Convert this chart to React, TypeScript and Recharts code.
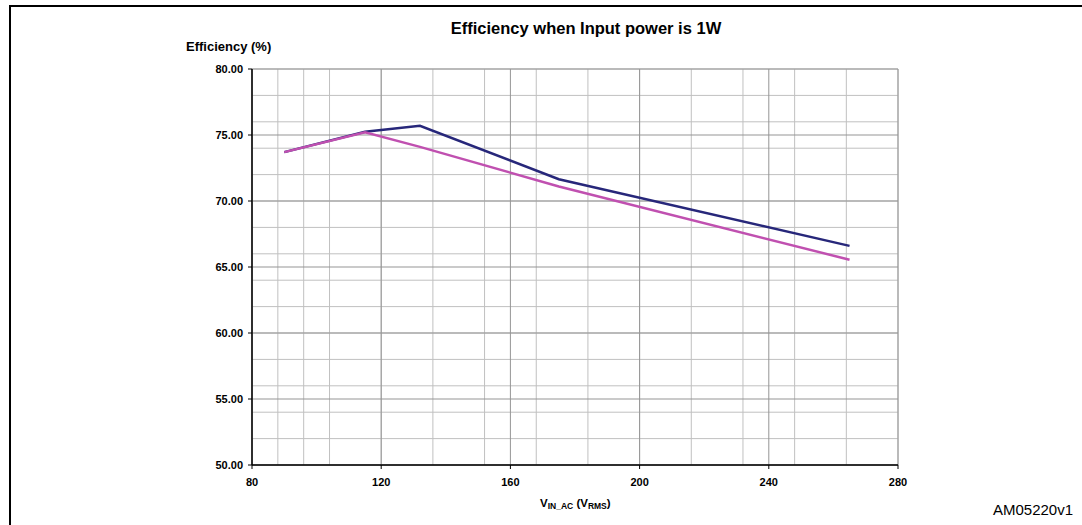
import { LineChart, Line, XAxis, YAxis, CartesianGrid } from 'recharts'

const vin = [90, 115, 132, 175, 265]
const effA = [73.7, 75.25, 75.7, 71.65, 66.6]
const effB = [73.7, 75.2, 74.1, 71.1, 65.55]

const xTicks = [80, 120, 160, 200, 240, 280]
const yTicks = [50, 55, 60, 65, 70, 75, 80]
const xMinor = [80, 88, 96, 104, 112, 120, 128, 136, 144, 152, 160, 168, 176, 184, 192, 200, 208, 216, 224, 232, 240, 248, 256, 264, 272, 280]
const yMinor = [50, 51, 52, 53, 54, 55, 56, 57, 58, 59, 60, 61, 62, 63, 64, 65, 66, 67, 68, 69, 70, 71, 72, 73, 74, 75, 76, 77, 78, 79, 80]

const data = vin.map((v, i) => ({ v, a: effA[i], b: effB[i] }))

const font = '"Liberation Sans", Arial, sans-serif'
const tickStyle = { fontSize: 11, fontWeight: 700, fill: '#000', fontFamily: font }

export default function App() {
  return (
    <div style={{ position: 'absolute', left: 0, top: 0, width: 1082, height: 525, background: '#fff', fontFamily: font, overflow: 'hidden' }}>
      <div style={{ position: 'absolute', left: 9, top: 5, width: 1073, height: 2, background: '#000' }} />
      <div style={{ position: 'absolute', left: 9, top: 5, width: 2, height: 520, background: '#000' }} />
      <div style={{ position: 'absolute', left: 336, top: 18, width: 500, textAlign: 'center', fontSize: 16.5, lineHeight: '20px', fontWeight: 700 }}>
        Efficiency when Input power is 1W
      </div>
      <div style={{ position: 'absolute', left: 186, top: 39, fontSize: 13, lineHeight: '16px', fontWeight: 700 }}>
        Efficiency (%)
      </div>
      <div style={{ position: 'absolute', left: 540, top: 496, fontSize: 11.5, lineHeight: '14px', fontWeight: 700, whiteSpace: 'nowrap' }}>
        V<span style={{ fontSize: 8.5, verticalAlign: -2 }}>IN_AC</span> (V<span style={{ fontSize: 8.5, verticalAlign: -2 }}>RMS</span>)
      </div>
      <div style={{ position: 'absolute', left: 993, top: 501, fontSize: 15, lineHeight: '17px' }}>AM05220v1</div>
      <div style={{ position: 'absolute', left: 0, top: 0 }}>
        <LineChart width={1082} height={525} data={data} margin={{ top: 69, right: 184, bottom: 30, left: 192 }}>
          <CartesianGrid stroke="#c0c0c0" strokeWidth={1} horizontalValues={yMinor} verticalValues={xMinor} />
          <CartesianGrid stroke="#959595" strokeWidth={1} horizontalValues={yTicks} verticalValues={xTicks} />
          <XAxis
            dataKey="v"
            type="number"
            domain={[80, 280]}
            ticks={xTicks}
            height={30}
            tick={tickStyle}
            tickSize={4}
            tickMargin={9}
            axisLine={{ stroke: '#000', strokeWidth: 1.5 }}
            tickLine={{ stroke: '#000' }}
          />
          <YAxis
            type="number"
            domain={[50, 80]}
            ticks={yTicks}
            width={60}
            tick={tickStyle}
            tickFormatter={(t: number) => t.toFixed(2)}
            tickSize={4}
            tickMargin={5}
            axisLine={{ stroke: '#000', strokeWidth: 1.5 }}
            tickLine={{ stroke: '#000' }}
          />
          <Line type="linear" dataKey="a" stroke="#27277a" strokeWidth={2.5} dot={false} isAnimationActive={false} />
          <Line type="linear" dataKey="b" stroke="#c050b0" strokeWidth={2.5} dot={false} isAnimationActive={false} />
        </LineChart>
      </div>
    </div>
  )
}
